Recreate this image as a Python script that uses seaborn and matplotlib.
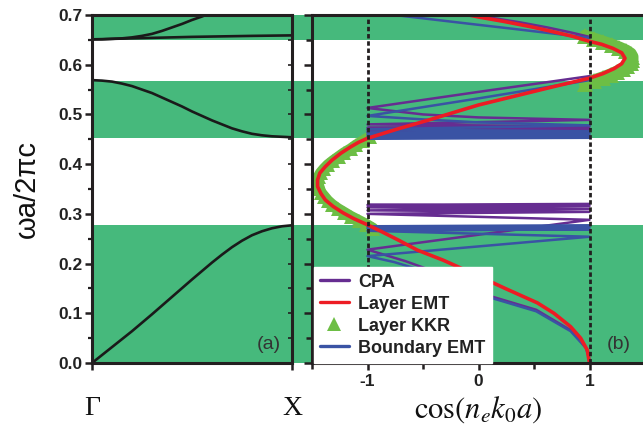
import matplotlib
matplotlib.use("Agg")
import matplotlib.pyplot as plt
from matplotlib.lines import Line2D
from matplotlib.ticker import MultipleLocator, FixedLocator, FormatStrFormatter
import seaborn as sns

sns.set_theme(style="ticks")
plt.rcParams["font.family"] = ["Liberation Sans", "DejaVu Sans"]
plt.rcParams["mathtext.fontset"] = "stix"

# ---------------- data ----------------
# shaded passbands (omega a / 2 pi c)
band_lo = [0.000, 0.452, 0.650]
band_hi = [0.277, 0.568, 0.700]

# (a) band structure along Gamma -> X (reduced wavevector 0..1)
k_b1 = [0.0, 0.1, 0.2, 0.3, 0.4, 0.5, 0.6, 0.65, 0.7, 0.75, 0.8, 0.85, 0.9, 0.95, 1.0]
w_b1 = [0.000, 0.032, 0.064, 0.098, 0.133, 0.168, 0.202, 0.218, 0.233, 0.246,
        0.257, 0.265, 0.271, 0.275, 0.277]
k_b2 = [0.0, 0.05, 0.1, 0.15, 0.2, 0.25, 0.3, 0.35, 0.4, 0.45, 0.5, 0.55, 0.6,
        0.65, 0.7, 0.75, 0.8, 0.85, 0.9, 0.95, 1.0]
w_b2 = [0.569, 0.568, 0.566, 0.562, 0.557, 0.550, 0.543, 0.534, 0.525, 0.516,
        0.506, 0.497, 0.488, 0.480, 0.472, 0.466, 0.461, 0.458, 0.456, 0.455, 0.454]
k_b3 = [0.0, 0.2, 0.5, 0.8, 1.0]
w_b3 = [0.651, 0.653, 0.656, 0.658, 0.659]
k_b4 = [0.0, 0.05, 0.1, 0.15, 0.2, 0.25, 0.3, 0.35, 0.4, 0.45, 0.5, 0.55, 0.58]
w_b4 = [0.651, 0.651, 0.652, 0.653, 0.655, 0.658, 0.662, 0.668, 0.675, 0.682,
        0.690, 0.697, 0.702]

# (b) cos(n_e k0 a) versus frequency
emt_w = [0.000, 0.006, 0.026, 0.050, 0.073, 0.100, 0.121, 0.150, 0.181, 0.207,
         0.227, 0.247, 0.265, 0.278, 0.290, 0.302, 0.315, 0.328, 0.341, 0.355,
         0.368, 0.382, 0.395, 0.408, 0.422, 0.435, 0.444, 0.452, 0.470, 0.490,
         0.519, 0.537, 0.555, 0.573, 0.582, 0.592, 0.602, 0.613, 0.624, 0.633,
         0.641, 0.647, 0.657, 0.667, 0.676, 0.687, 0.696, 0.702]
emt_cos = [1.00, 0.995, 0.98, 0.92, 0.83, 0.68, 0.53, 0.24, -0.06, -0.32,
           -0.55, -0.72, -0.88, -1.00, -1.12, -1.22, -1.31, -1.38, -1.42, -1.45,
           -1.45, -1.43, -1.38, -1.32, -1.24, -1.15, -1.08, -1.00, -0.74, -0.43,
           0.00, 0.33, 0.66, 1.00, 1.12, 1.22, 1.29, 1.32, 1.29, 1.21,
           1.11, 1.00, 0.85, 0.66, 0.48, 0.23, 0.00, -0.13]

kkr_w_lo = [0.270, 0.278, 0.286, 0.294, 0.302, 0.310, 0.318, 0.326, 0.334, 0.342,
            0.350, 0.358, 0.366, 0.374, 0.382, 0.390, 0.398, 0.406, 0.414, 0.422,
            0.430, 0.438, 0.446, 0.454]
kkr_cos_lo = [-0.95, -1.01, -1.08, -1.15, -1.21, -1.27, -1.32, -1.36, -1.39, -1.42,
              -1.435, -1.445, -1.445, -1.44, -1.42, -1.39, -1.355, -1.31, -1.26, -1.21,
              -1.15, -1.10, -1.04, -0.98]
kkr_w_hi = [0.562, 0.568, 0.574, 0.580, 0.586, 0.592, 0.598, 0.604, 0.610, 0.616,
            0.622, 0.628, 0.634, 0.640, 0.646, 0.652, 0.658]
kkr_cos_hi = [0.96, 1.04, 1.12, 1.19, 1.25, 1.30, 1.34, 1.37, 1.385, 1.385,
              1.37, 1.33, 1.27, 1.20, 1.12, 1.04, 0.96]

cpa_lo_w = [0.000, 0.010, 0.030, 0.066, 0.107, 0.147, 0.165, 0.181, 0.205, 0.228,
            0.288, 0.300, 0.304, 0.307, 0.310, 0.313, 0.316, 0.318, 0.320]
cpa_lo_cos = [1.00, 0.995, 0.97, 0.83, 0.52, -0.08, -0.22, -0.36, -0.66, -1.00,
              1.00, -1.00, 1.00, -1.00, 1.00, -1.00, 1.00, -1.00, 1.00]
cpa_mid_w = [0.465, 0.467, 0.469, 0.471, 0.473, 0.476, 0.480, 0.489, 0.494, 0.500,
             0.513, 0.546, 0.577]
cpa_mid_cos = [-1.0, 1.0, -1.0, 1.0, -1.0, 1.0, -1.0, 1.0, 0.0, -0.5,
               -1.0, 0.02, 1.0]
cpa_top_w = [0.656, 0.665, 0.675, 0.685, 0.695, 0.702]
cpa_top_cos = [1.00, 0.83, 0.62, 0.38, 0.10, -0.10]

bemt_lo_w = [0.000, 0.010, 0.030, 0.064, 0.104, 0.144, 0.170, 0.187, 0.203, 0.215,
             0.254, 0.266, 0.269, 0.271, 0.273, 0.275, 0.277]
bemt_lo_cos = [1.00, 0.995, 0.97, 0.83, 0.52, -0.08, -0.33, -0.52, -0.76, -1.00,
               1.00, -1.00, 1.00, -1.00, 1.00, -1.00, 1.00]
bemt_mid_w = [0.451, 0.453, 0.455, 0.457, 0.459, 0.461, 0.463, 0.466, 0.470, 0.478,
              0.484, 0.490, 0.497, 0.533, 0.569]
bemt_mid_cos = [-1.0, 1.0, -1.0, 1.0, -1.0, 1.0, -1.0, 1.0, -1.0, 1.0,
                0.0, -0.5, -1.0, 0.02, 1.0]
bemt_top_w = [0.654, 0.662, 0.672, 0.681, 0.692, 0.704]
bemt_top_cos = [1.00, 0.70, 0.32, -0.03, -0.45, -0.91]

# ---------------- style ----------------
BAND = "#46b97c"
INK = "#231f20"
C_CPA = "#662d91"
C_EMT = "#ed1c24"
C_KKR = "#6dbe45"
C_BEMT = "#3a53a4"
SPINE_W = 2.2

W, H = 643, 426
fig = plt.figure(figsize=(W / 100, H / 100), dpi=100)

bottom = (H - 363) / H
height = 348 / H
left_a = 92 / W
width_a = 200 / W
left_b = 312 / W
width_b = 333 / W

# passband shading spanning both panels
bg = fig.add_axes([left_a, bottom, 1 - left_a, height], zorder=0)
bg.set_xlim(0, 1)
bg.set_ylim(0, 0.7)
bg.axis("off")
for lo, hi in zip(band_lo, band_hi):
    bg.axhspan(lo, hi, color=BAND, lw=0)

axA = fig.add_axes([left_a, bottom, width_a, height], zorder=1)
axB = fig.add_axes([left_b, bottom, width_b, height], zorder=1)
for ax in (axA, axB):
    ax.set_facecolor("none")
    ax.set_ylim(0, 0.7)
    for s in ax.spines.values():
        s.set_linewidth(SPINE_W)
        s.set_color(INK)
    ax.yaxis.set_major_locator(MultipleLocator(0.1))
    ax.yaxis.set_minor_locator(MultipleLocator(0.05))

# ---- panel (a) ----
for k, w in ((k_b1, w_b1), (k_b2, w_b2), (k_b3, w_b3), (k_b4, w_b4)):
    sns.lineplot(x=k, y=w, sort=False, estimator=None, ax=axA,
                 color="#1a1a1a", lw=1.9)
axA.set_xlim(0, 1)
axA.set_xticks([0, 1])
axA.set_xticklabels(["Γ", "X"], fontfamily="Liberation Serif", fontsize=20)
axA.tick_params(axis="x", direction="out", length=5, width=1.8, pad=19,
                colors=INK, labelcolor="#111111")
axA.yaxis.set_major_formatter(FormatStrFormatter("%.1f"))
axA.tick_params(axis="y", which="major", direction="out", length=5, width=1.8,
                labelsize=12.5, pad=2, colors=INK, labelcolor="#222222")
axA.tick_params(axis="y", which="minor", direction="out", length=3, width=1.6,
                colors=INK)
for lab in axA.get_yticklabels():
    lab.set_fontweight("bold")
sec = axA.secondary_yaxis("right")
sec.yaxis.set_major_locator(MultipleLocator(0.05))
sec.tick_params(direction="in", length=3, width=1.2, labelright=False, colors=INK)
sec.spines["right"].set_visible(False)
axA.set_xlabel("")
axA.set_ylabel("ωa/2πc", fontsize=21, color="#111111", labelpad=12)
axA.text(0.885, 0.052, "(a)", transform=axA.transAxes, ha="center",
         va="center", fontsize=14, color="#333333")

# ---- panel (b) ----
sns.lineplot(x=kkr_cos_lo, y=kkr_w_lo, sort=False, estimator=None, ax=axB,
             color=C_KKR, lw=8.5, marker="^", markersize=10, markeredgewidth=0)
sns.lineplot(x=kkr_cos_hi, y=kkr_w_hi, sort=False, estimator=None, ax=axB,
             color=C_KKR, lw=9, marker="^", markersize=12, markeredgewidth=0)
for c, w in ((cpa_lo_cos, cpa_lo_w), (cpa_mid_cos, cpa_mid_w), (cpa_top_cos, cpa_top_w)):
    sns.lineplot(x=c, y=w, sort=False, estimator=None, ax=axB, color=C_CPA, lw=1.8)
for c, w in ((bemt_lo_cos, bemt_lo_w), (bemt_mid_cos, bemt_mid_w), (bemt_top_cos, bemt_top_w)):
    sns.lineplot(x=c, y=w, sort=False, estimator=None, ax=axB, color=C_BEMT, lw=1.8)
sns.lineplot(x=emt_cos, y=emt_w, sort=False, estimator=None, ax=axB,
             color=C_EMT, lw=2.6)
for xv in (-1, 1):
    axB.axvline(xv, color=INK, lw=2.0, ls=(0, (1.6, 1.0)), zorder=6)

axB.set_xlim(-1.5, 1.5)
axB.xaxis.set_major_locator(FixedLocator([-1, 0, 1]))
axB.xaxis.set_minor_locator(FixedLocator([-1.5, -0.5, 0.5, 1.5]))
axB.set_xticklabels(["-1", "0", "1"])
axB.tick_params(axis="x", which="major", direction="out", length=5, width=1.8,
                labelsize=12.5, pad=3, colors=INK, labelcolor="#222222")
axB.tick_params(axis="x", which="minor", direction="out", length=4, width=1.8,
                colors=INK)
for lab in axB.get_xticklabels():
    lab.set_fontweight("bold")
axB.tick_params(axis="y", which="major", direction="out", length=6, width=1.8,
                labelleft=False, colors=INK)
axB.tick_params(axis="y", which="minor", direction="out", length=4, width=1.8,
                colors=INK)
axB.spines["right"].set_visible(False)
axB.set_ylabel("")
axB.set_xlabel(r"$\cos(n_e k_0 a)$", fontsize=22, color="#111111", labelpad=4)
axB.text(0.922, 0.052, "(b)", transform=axB.transAxes, ha="center",
         va="center", fontsize=14, color="#333333")

handles = [
    Line2D([], [], color=C_CPA, lw=2.4),
    Line2D([], [], color=C_EMT, lw=2.4),
    Line2D([], [], color=C_KKR, lw=0, marker="^", markersize=10, markeredgewidth=0),
    Line2D([], [], color=C_BEMT, lw=2.4),
]
labels = ["CPA", "Layer EMT", "Layer KKR", "Boundary EMT"]
leg = axB.legend(handles, labels, loc="lower left", bbox_to_anchor=(0.005, 0.0),
                 frameon=True, fancybox=False, framealpha=1, edgecolor="white",
                 facecolor="white", borderpad=0.35, labelspacing=0.28,
                 handlelength=1.6, handletextpad=0.5, borderaxespad=0.0,
                 prop={"weight": "bold", "size": 13})
for t in leg.get_texts():
    t.set_color("#222222")
leg.set_zorder(10)

fig.savefig("out.png", dpi=100)
